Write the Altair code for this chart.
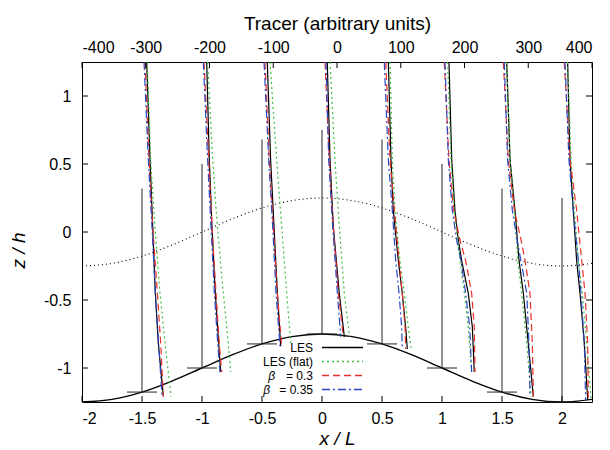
import altair as alt
import pandas as pd

FONT = "Liberation Sans"

# ---------------- data ----------------
x_ticks = [-2, -1.5, -1, -0.5, 0, 0.5, 1, 1.5, 2]
y_ticks = [-1, -0.5, 0, 0.5, 1]
tracer_ticks = [-400, -300, -200, -100, 0, 100, 200, 300, 400]

# hill surface and black dotted curve
hill_x = [-2.0, -1.75, -1.5, -1.25, -1.0, -0.75, -0.5, -0.25, 0.0, 0.25, 0.5,
          0.75, 1.0, 1.25, 1.5, 1.75, 2.0, 2.25]
hill_z = [-1.25, -1.231, -1.177, -1.096, -1.0, -0.904, -0.823, -0.769, -0.75,
          -0.769, -0.823, -0.904, -1.0, -1.096, -1.177, -1.231, -1.25, -1.231]
dotted_z = [-0.25, -0.231, -0.177, -0.096, 0.0, 0.096, 0.177, 0.231, 0.25,
            0.231, 0.177, 0.096, 0.0, -0.096, -0.177, -0.231, -0.25, -0.231]

# profile stations (vertical reference lines)
station_x = [-1.5, -1.0, -0.5, 0.0, 0.5, 1.0, 1.5, 2.0]
station_ground = [-1.177, -1.0, -0.823, -0.75, -0.823, -1.0, -1.177, -1.25]
station_top = [0.32, 0.5, 0.68, 0.75, 0.68, 0.5, 0.32, 0.25]
station_half = 0.125

series_names = ["LES", "LES (flat)", "β = 0.3", "β = 0.35"]

# tracer profiles (x/L positions at heights z/h)
p1_z = [1.25, 0.53, 0.04, -0.45, -0.82, -1.21]
p1_les = [-1.461, -1.433, -1.411, -1.389, -1.364, -1.322]
p1_flat = [-1.456, -1.428, -1.392, -1.35, -1.308, -1.258]
p1_b03 = [-1.475, -1.442, -1.411, -1.372, -1.344, -1.322]
p1_b035 = [-1.483, -1.447, -1.417, -1.389, -1.361, -1.333]

p2_z = [1.25, 0.53, 0.04, -0.45, -0.82, -1.03]
p2_les = [-0.961, -0.939, -0.917, -0.889, -0.861, -0.844]
p2_flat = [-0.953, -0.911, -0.872, -0.822, -0.781, -0.761]
p2_b03 = [-0.983, -0.944, -0.917, -0.883, -0.856, -0.836]
p2_b035 = [-0.989, -0.953, -0.925, -0.897, -0.869, -0.85]

p3_z = [1.25, 0.53, 0.04, -0.45, -0.84]
p3_les = [-0.456, -0.428, -0.4, -0.372, -0.344]
p3_flat = [-0.433, -0.378, -0.336, -0.294, -0.258]
p3_b03 = [-0.475, -0.439, -0.406, -0.372, -0.336]
p3_b035 = [-0.483, -0.444, -0.411, -0.383, -0.35]

p4_z = [1.25, 0.53, 0.04, -0.45, -0.77]
p4_les = [0.044, 0.067, 0.094, 0.144, 0.186]
p4_flat = [0.067, 0.108, 0.144, 0.186, 0.23]
p4_b03 = [0.025, 0.061, 0.094, 0.136, 0.178]
p4_b035 = [0.033, 0.056, 0.089, 0.128, 0.156]

p5_z = [1.25, 0.53, 0.16, -0.21, -0.45, -0.70, -0.86]
p5_les = [0.553, 0.575, 0.594, 0.636, 0.669, 0.697, 0.711]
p5_flat = [0.567, 0.586, 0.608, 0.65, 0.686, 0.719, 0.742]
p5_b03 = [0.531, 0.567, 0.603, 0.642, 0.669, 0.692, 0.697]
p5_b035 = [0.519, 0.553, 0.586, 0.614, 0.642, 0.664, 0.669]

p6_z = [1.25, 0.53, 0.16, -0.06, -0.21, -0.45, -0.70, -1.03]
p6_les = [1.058, 1.081, 1.108, 1.136, 1.164, 1.219, 1.253, 1.269]
p6_flat = [1.047, 1.075, 1.103, 1.131, 1.15, 1.186, 1.219, 1.247]
p6_b03 = [1.019, 1.058, 1.097, 1.15, 1.197, 1.247, 1.269, 1.275]
p6_b035 = [1.025, 1.053, 1.086, 1.122, 1.158, 1.197, 1.231, 1.247]

p7_z = [1.25, 0.53, 0.16, -0.08, -0.21, -0.45, -0.82, -1.21]
p7_les = [1.539, 1.567, 1.608, 1.63, 1.642, 1.678, 1.719, 1.761]
p7_flat = [1.539, 1.567, 1.603, 1.622, 1.631, 1.664, 1.706, 1.742]
p7_b03 = [1.511, 1.553, 1.603, 1.664, 1.692, 1.733, 1.753, 1.761]
p7_b035 = [1.519, 1.547, 1.586, 1.63, 1.658, 1.706, 1.725, 1.733]

p8_z = [1.25, 0.53, 0.16, -0.21, -0.45, -0.82, -1.235]
p8_les = [2.047, 2.067, 2.094, 2.122, 2.15, 2.186, 2.214]
p8_flat = [2.047, 2.075, 2.103, 2.136, 2.169, 2.206, 2.242]
p8_b03 = [2.019, 2.067, 2.122, 2.164, 2.192, 2.214, 2.219]
p8_b035 = [2.025, 2.058, 2.094, 2.136, 2.158, 2.186, 2.197]

profiles = [
    (p1_z, [p1_les, p1_flat, p1_b03, p1_b035]),
    (p2_z, [p2_les, p2_flat, p2_b03, p2_b035]),
    (p3_z, [p3_les, p3_flat, p3_b03, p3_b035]),
    (p4_z, [p4_les, p4_flat, p4_b03, p4_b035]),
    (p5_z, [p5_les, p5_flat, p5_b03, p5_b035]),
    (p6_z, [p6_les, p6_flat, p6_b03, p6_b035]),
    (p7_z, [p7_les, p7_flat, p7_b03, p7_b035]),
    (p8_z, [p8_les, p8_flat, p8_b03, p8_b035]),
]

# ---------------- styles ----------------
series_colors = ["#000000", "#3cbc3c", "#e8302c", "#2c48c4"]
series_dash = [[1, 0], [2, 3], [7, 4], [8, 3, 2, 3]]
W, H = 510, 340
TICK_FS = 16
TITLE_FS = 19
LEG_FS = 12

# ---------------- tables ----------------
hill_df = pd.DataFrame({"x": hill_x, "z": hill_z})
dot_df = pd.DataFrame({"x": hill_x, "z": dotted_z})
st_df = pd.DataFrame({
    "x": station_x,
    "z": station_ground,
    "z2": station_top,
    "xa": [v - station_half for v in station_x],
    "xb": [v + station_half for v in station_x],
})
rows = []
for pi, (zs, cols) in enumerate(profiles):
    for s, xs_ in zip(series_names, cols):
        for i, (xv, zv) in enumerate(zip(xs_, zs)):
            rows.append({"profile": pi, "series": s, "x": xv, "z": zv, "i": i})
prof_df = pd.DataFrame(rows)

xscale = alt.Scale(domain=[-2, 2.25], nice=False, zero=False)
yscale = alt.Scale(domain=[-1.25, 1.25], nice=False, zero=False)
x_axis = alt.Axis(title="x / L", values=x_ticks, labelExpr="datum.value + ''",
                  tickSize=0, domain=False, grid=False, labelPadding=8,
                  titleFontStyle="italic", titleFontSize=TITLE_FS, titlePadding=3,
                  labelFontSize=TICK_FS)
y_axis = alt.Axis(title="z / h", values=y_ticks, labelExpr="datum.value + ''",
                  tickSize=0, domain=False, grid=False, labelPadding=11,
                  titleFontStyle="italic", titleFontSize=TITLE_FS,
                  titleX=-64, titleY=188, titleBaseline="middle", titleAlign="center",
                  labelFontSize=TICK_FS)


def X(f="x"):
    return alt.X(f + ":Q", scale=xscale, axis=x_axis)


def Y(f="z"):
    return alt.Y(f + ":Q", scale=yscale, axis=y_axis)


layers = []
layers.append(alt.Chart(hill_df).mark_line(color="black", strokeWidth=1.4,
                                           interpolate="monotone", clip=True)
              .encode(x=X(), y=Y()))
layers.append(alt.Chart(dot_df).mark_line(color="black", strokeWidth=1.1,
                                          strokeDash=[1, 3], interpolate="monotone", clip=True)
              .encode(x=X(), y=Y()))
layers.append(alt.Chart(st_df).mark_rule(color="#222222", strokeWidth=1)
              .encode(x=X(), y=Y(), y2="z2:Q"))
layers.append(alt.Chart(st_df).mark_rule(color="#222222", strokeWidth=1)
              .encode(x=X("xa"), x2="xb:Q", y=Y()))

for s, c, d in zip(series_names, series_colors, series_dash):
    sub = prof_df[prof_df["series"] == s]
    layers.append(alt.Chart(sub).mark_line(color=c, stroke=c, strokeWidth=1.2, strokeDash=d,
                                           clip=True)
                  .encode(x=X(), y=Y(), detail="profile:N", order="i:Q"))

# inward ticks
xt_df = pd.DataFrame({"x": x_ticks})
yt_df = pd.DataFrame({"z": y_ticks})
layers.append(alt.Chart(xt_df).mark_rule(color="black")
              .encode(x=X(), y=alt.value(H), y2=alt.value(H - 6)))
layers.append(alt.Chart(yt_df).mark_rule(color="black")
              .encode(y=Y(), x=alt.value(0), x2=alt.value(6)))
layers.append(alt.Chart(yt_df).mark_rule(color="black")
              .encode(y=Y(), x=alt.value(W), x2=alt.value(W - 6)))

# legend (gnuplot style: text left, sample right)
leg_y = [285.5, 299.5, 313.5, 327.5]
leg_prefix = ["LES", "LES (flat)", "β", "β"]
leg_suffix = ["", "", "= 0.3", "= 0.35"]
beta_right = [0, 0, 193, 188]
for k in range(4):
    one = pd.DataFrame({"label": [series_names[k]], "pre": [leg_prefix[k]], "suf": [leg_suffix[k]]})
    layers.append(alt.Chart(one).mark_rule(color=series_colors[k], stroke=series_colors[k],
                                           strokeWidth=1.3, strokeDash=series_dash[k])
                  .encode(x=alt.value(240), x2=alt.value(281), y=alt.value(leg_y[k])))
    if leg_suffix[k] == "":
        layers.append(alt.Chart(one).mark_text(align="right", baseline="middle", fontSize=LEG_FS,
                                               font=FONT, color="black")
                      .encode(text="pre:N", x=alt.value(231), y=alt.value(leg_y[k])))
    else:
        layers.append(alt.Chart(one).mark_text(align="right", baseline="middle", fontSize=LEG_FS,
                                               font=FONT, color="black")
                      .encode(text="suf:N", x=alt.value(231), y=alt.value(leg_y[k])))
        layers.append(alt.Chart(one).mark_text(align="right", baseline="middle", fontSize=LEG_FS,
                                               font=FONT, color="black", fontStyle="italic")
                      .encode(text="pre:N", x=alt.value(beta_right[k]), y=alt.value(leg_y[k])))

inner = alt.layer(*layers)

tr_df = pd.DataFrame({"t": tracer_ticks})
top = alt.Chart(tr_df).mark_rule(color="black").encode(
    x=alt.X("t:Q", scale=alt.Scale(domain=[-400, 400], nice=False, zero=False),
            axis=alt.Axis(orient="top", title="Tracer (arbitrary units)", values=tracer_ticks,
                          labelExpr="datum.value + ''", tickSize=0, domain=False, grid=False,
                          labelPadding=7, titleFontSize=TITLE_FS, titlePadding=6,
                          labelFontSize=TICK_FS)),
    y=alt.value(0), y2=alt.value(6))

chart = (alt.layer(inner, top)
         .resolve_scale(x="independent")
         .properties(width=W, height=H, autosize="none",
                     padding={"left": 74, "top": 54, "right": 10, "bottom": 48})
         .configure_view(stroke="black", strokeWidth=1)
         .configure_axis(labelFont=FONT, titleFont=FONT, labelColor="black",
                         titleColor="black", titleFontWeight="normal"))

chart.save("out.html", embed_options={"renderer": "svg", "actions": False})
